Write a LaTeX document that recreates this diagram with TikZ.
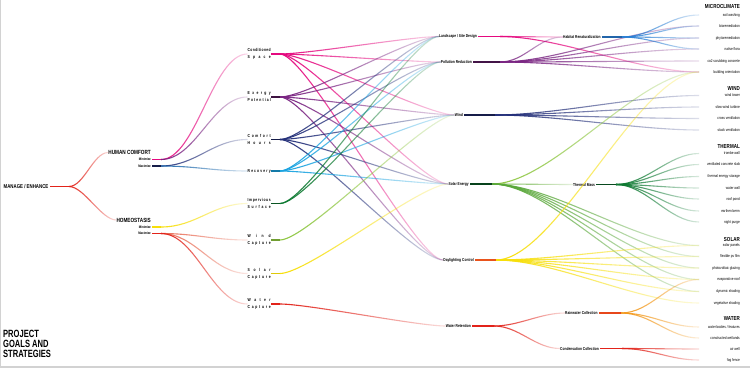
\documentclass[tikz,border=0pt]{standalone}
\usepackage{fontspec}
\setmainfont{Liberation Sans}
\newfontfamily\cnd[FakeStretch=0.78]{Liberation Sans}
\newfontfamily\titlefont[FakeStretch=0.72]{Liberation Sans}
\usetikzlibrary{fadings}
\tikzfading[name=fr, left color=transparent!0, right color=transparent!85]
\definecolor{cMag}{HTML}{E5097F}
\definecolor{cPur}{HTML}{7A2582}
\definecolor{cNavy}{HTML}{24307A}
\definecolor{cCyan}{HTML}{1AA3E0}
\definecolor{cBlue}{HTML}{2A7FD4}
\definecolor{cDG}{HTML}{0E7A32}
\definecolor{cLG}{HTML}{8DC63F}
\definecolor{cYel}{HTML}{F7DF0A}
\definecolor{cRed}{HTML}{E2231A}
\definecolor{cOr}{HTML}{F39A1E}
\definecolor{cSal}{HTML}{E8674F}
\def\spr#1{\makebox[23pt][s]{\sprA#1\relax}}
\def\sprA#1#2{#1\ifx\relax#2\expandafter\sprG\else\hfill\expandafter\sprA\fi#2}
\def\sprG#1{}
\newcommand\cn[4][40]{\draw[conn,#2] (#3) .. controls +(#1,0) and +(-#1,0) .. (#4);}
\begin{document}
\begin{tikzpicture}[x=1pt,y=-1pt,
  conn/.style={line width=1.1pt, path fading=fr},
  stub/.style={line width=1.9pt},
  lab/.style={inner sep=0pt, text=black},
  t0/.style={lab, font=\cnd\bfseries\fontsize{5.6}{6}\selectfont},
  t1/.style={lab, font=\cnd\bfseries\fontsize{6}{7}\selectfont},
  tmm/.style={lab, font=\cnd\bfseries\fontsize{3.6}{4}\selectfont},
  t2/.style={lab, align=left, font=\cnd\bfseries\fontsize{4.3}{7}\selectfont},
  t3/.style={lab, font=\cnd\bfseries\fontsize{4.2}{5}\selectfont},
  th/.style={lab, font=\cnd\bfseries\fontsize{5.8}{6}\selectfont},
  ti/.style={lab, font=\cnd\fontsize{4}{4.5}\selectfont},
  ttl/.style={lab, align=left, font=\titlefont\bfseries\fontsize{10.5}{10.2}\selectfont}]
\useasboundingbox (0,0) rectangle (750,370);
\fill[white] (0,0) rectangle (750,370);
\draw[gray!35, line width=1.4pt] (0.7,0) -- (0.7,367) -- (750,367);

% ---------- nodes ----------
\node[t0,anchor=west] (me) at (3.5,186.5) {MANAGE / ENHANCE};
\coordinate (me-o) at (69,186.5);

\node[t1,anchor=east] (hc) at (151,152.5) {HUMAN COMFORT};
\node[tmm,anchor=east] (hcmin) at (151,159.5) {Minimize};
\node[tmm,anchor=east] (hcmax) at (151,166) {Maximize};
\coordinate (hcmin-o) at (161,159.5);
\coordinate (hcmax-o) at (161,166);
\node[t1,anchor=east] (ho) at (151,220) {HOMEOSTASIS};
\node[tmm,anchor=east] (homin) at (151,227) {Minimize};
\node[tmm,anchor=east] (homax) at (151,233.5) {Maximize};
\coordinate (homin-o) at (161,227);
\coordinate (homax-o) at (161,233.5);

\node[t2,anchor=west] (cs) at (247.5,54) {\spr{Conditioned}\\\spr{Space}};
\node[t2,anchor=west] (ep) at (247.5,97) {\spr{Exergy}\\\spr{Potential}};
\node[t2,anchor=west] (ch) at (247.5,139.5) {\spr{Comfort}\\\spr{Hours}};
\node[t2,anchor=west] (rc) at (247.5,171) {\spr{Recovery}};
\node[t2,anchor=west] (is) at (247.5,203.5) {\spr{Impervious}\\\spr{Surface}};
\node[t2,anchor=west] (wc) at (247.5,240) {\spr{Wind}\\\spr{Capture}};
\node[t2,anchor=west] (sc) at (247.5,273.5) {\spr{Solar}\\\spr{Capture}};
\node[t2,anchor=west] (wa) at (247.5,304) {\spr{Water}\\\spr{Capture}};
\foreach \n/\yy in {cs/54,ep/97,ch/139.5,rc/171,is/203.5,wc/240,sc/273.5,wa/304}
  {\coordinate (\n-o) at (280,\yy);}

\node[t3,anchor=east] (ls) at (477,36.5) {Landscape / Site Design};
\node[t3,anchor=east] (pr) at (472,62) {Pollution Reduction};
\node[t3,anchor=east] (wi) at (463,115) {Wind};
\node[t3,anchor=east] (se) at (469,184) {Solar Energy};
\node[t3,anchor=east] (dc) at (474,260) {Daylighting Control};
\node[t3,anchor=east] (wr) at (471,326) {Water Retention};
\coordinate (ls-o) at (500,36.5);
\coordinate (pr-o) at (500,62);
\coordinate (wi-o) at (495,115);
\coordinate (se-o) at (492,184);
\coordinate (dc-o) at (496,260);
\coordinate (wr-o) at (494,326);

\node[t3,anchor=west] (hr) at (563,37) {Habitat Renaturalization};
\node[t3,anchor=west] (tm) at (573,184.5) {Thermal Mass};
\node[t3,anchor=west] (rw) at (565,313) {Rainwater Collection};
\node[t3,anchor=west] (cc) at (560,348.5) {Condensation Collection};
\coordinate (hr-o) at (622,37);
\coordinate (tm-o) at (616,184.5);
\coordinate (rw-o) at (621,313);
\coordinate (cc-o) at (622,348.5);

\node[th,anchor=east] (hMC) at (740,7) {MICROCLIMATE};
\node[th,anchor=east] (hWI) at (740,89) {WIND};
\node[th,anchor=east] (hTH) at (740,147) {THERMAL};
\node[th,anchor=east] (hSO) at (740,239) {SOLAR};
\node[th,anchor=east] (hWA) at (740,318) {WATER};
\foreach \n/\yy/\t in {sw/15/soil washing, bio/26/bioremediation, phy/38/phytoremediation,
  nf/49/native flora, co2/61/co2 scrubbing concrete, bo/72/building orientation,
  wt/95.5/wind tower, swt/107/slow-wind turbine, cv/118.5/cross ventilation, sv/130/stack ventilation,
  tw/153.5/trombe wall, vcs/164.5/ventilated concrete slab, tes/176.5/thermal energy storage,
  ww/188/water wall, rp/199/roof pond, eb/211/earthen berm, np/222/night purge,
  sp/245.5/solar panels, pv/256.5/flexible pv film, pvg/268/photovoltaic glazing,
  er/279.5/evaporative roof, ds/291.5/dynamic shading, vs/303/vegetative shading,
  wb/327/{water bodies / features}, cw/338/constructed wetlands, aw/349/air well, ff/360/fog fence}
  {\node[ti,anchor=east] (\n) at (740,\yy) {\t};
   \coordinate (\n-e) at (699,\yy);}

\node[ttl,anchor=north west] (title) at (3,330) {PROJECT\\GOALS AND\\STRATEGIES};

% ---------- connectors ----------
\cn[15]{cRed}{me-o}{hc.west}
\cn[15]{cRed}{me-o}{ho.west}

\cn[35]{cMag}{hcmin-o}{cs.west}
\cn[35]{cPur}{hcmin-o}{ep.west}
\cn[35]{cNavy}{hcmax-o}{ch.west}
\cn[35]{cNavy!50!cCyan}{hcmax-o}{rc.west}
\cn[35]{cYel}{homin-o}{is.west}
\cn[35]{cSal}{homax-o}{wc.west}
\cn[35]{cSal}{homax-o}{sc.west}
\cn[35]{cRed}{homax-o}{wa.west}

\foreach \t in {ls,pr,wi,se,dc}{\cn[28]{cMag}{cs-o}{\t.west}}
\foreach \t in {ls,pr,wi,se,dc}{\cn[28]{cPur}{ep-o}{\t.west}}
\foreach \t in {ls,pr,wi,se,dc}{\cn[28]{cNavy}{ch-o}{\t.west}}
\foreach \t in {ls,pr,wi,se}{\cn[28]{cCyan}{rc-o}{\t.west}}
\foreach \t in {ls,pr}{\cn[28]{cDG}{is-o}{\t.west}}
\cn[28]{cLG}{wc-o}{wi.west}
\cn[28]{cYel}{sc-o}{se.west}
\cn[28]{cRed}{wa-o}{wr.west}

\cn[20]{cMag}{ls-o}{hr.west}
\cn[60]{cMag}{ls-o}{bo-e}
\cn[25]{cPur}{pr-o}{hr.west}
\foreach \t in {bio,phy,nf,co2,bo}{\cn[60]{cPur}{pr-o}{\t-e}}
\foreach \t in {sw,bio,phy,nf}{\cn[30]{cBlue}{hr-o}{\t-e}}
\foreach \t in {wt,swt,cv,sv}{\cn[60]{cNavy}{wi-o}{\t-e}}
\cn[20]{cLG!70!cDG}{se-o}{tm.west}
\cn[60]{cLG}{se-o}{bo-e}
\foreach \t in {sp,pv,pvg,er,ds}{\cn[60]{cLG!60!cDG}{se-o}{\t-e}}
\foreach \t in {tw,vcs,tes,ww,rp,eb,np}{\cn[30]{cDG}{tm-o}{\t-e}}
\cn[60]{cYel}{dc-o}{bo-e}
\foreach \t in {sp,pv,pvg,er,ds,vs}{\cn[60]{cYel}{dc-o}{\t-e}}
\cn[25]{cRed}{wr-o}{rw.west}
\cn[25]{cRed}{wr-o}{cc.west}
\foreach \t in {er,wb,cw}{\cn[30]{cOr}{rw-o}{\t-e}}
\foreach \t in {aw,ff}{\cn[30]{cRed}{cc-o}{\t-e}}

% ---------- stubs ----------
\draw[stub,cRed] ([xshift=1.5pt]me.east) -- (me-o);
\draw[stub,cMag] ([xshift=1pt]hcmin.east) -- (hcmin-o);
\draw[stub,cNavy!60!black] ([xshift=1pt]hcmax.east) -- (hcmax-o);
\draw[stub,cYel] ([xshift=1pt]homin.east) -- (homin-o);
\draw[stub,cRed] ([xshift=1pt]homax.east) -- (homax-o);
\draw[stub,cMag] ([xshift=0.5pt]cs.east) -- (cs-o);
\draw[stub,cPur!50!black] ([xshift=0.5pt]ep.east) -- (ep-o);
\draw[stub,cNavy!60!black] ([xshift=0.5pt]ch.east) -- (ch-o);
\draw[stub,cCyan!75!black] ([xshift=0.5pt]rc.east) -- (rc-o);
\draw[stub,cDG!70!black] ([xshift=0.5pt]is.east) -- (is-o);
\draw[stub,cLG!80!black] ([xshift=0.5pt]wc.east) -- (wc-o);
\draw[stub,cYel!90!black] ([xshift=0.5pt]sc.east) -- (sc-o);
\draw[stub,cRed] ([xshift=0.5pt]wa.east) -- (wa-o);
\draw[stub,cMag] ([xshift=1pt]ls.east) -- (ls-o);
\draw[stub,cPur!55!black] ([xshift=1pt]pr.east) -- (pr-o);
\draw[stub,cNavy!60!black] ([xshift=1pt]wi.east) -- (wi-o);
\draw[stub,cDG!55!black] ([xshift=1pt]se.east) -- (se-o);
\draw[stub,cRed!60!cOr] ([xshift=1pt]dc.east) -- (dc-o);
\draw[stub,cRed] ([xshift=1pt]wr.east) -- (wr-o);
\draw[stub,cBlue!80!black] ([xshift=1pt]hr.east) -- (hr-o);
\draw[stub,cDG!60!black] ([xshift=1pt]tm.east) -- (tm-o);
\draw[stub,cRed!70!cOr] ([xshift=1pt]rw.east) -- (rw-o);
\draw[stub,cRed] ([xshift=1pt]cc.east) -- (cc-o);
\end{tikzpicture}
\end{document}
